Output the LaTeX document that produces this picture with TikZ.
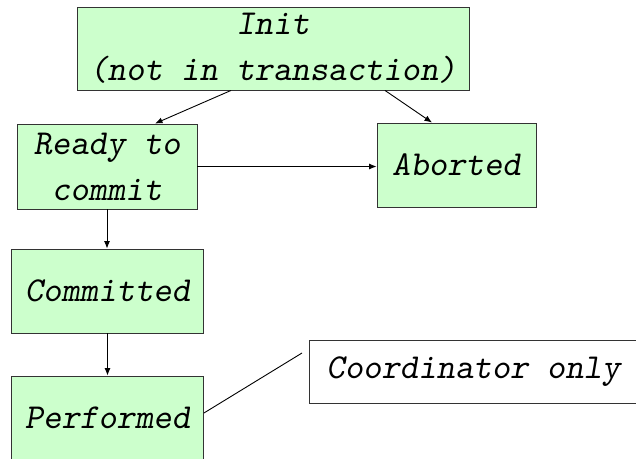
\documentclass[tikz,border=0pt]{standalone}
\usepackage{fontspec}
\newfontfamily\stateface{lmmonoslant10-regular.otf}
\usepackage{tikz}
\usetikzlibrary{arrows.meta}
\usetikzlibrary{positioning}

\definecolor{stategreen}{RGB}{204,255,204}
\definecolor{boxline}{RGB}{51,51,51}

\begin{document}
\begin{tikzpicture}[x=1pt, y=-1pt]
            \tikzset{every node/.style={rectangle, inner sep=0pt, align=center,
                        font=\fontsize{35}{46}\selectfont\stateface},
                    state/.style={draw=boxline, fill=stategreen, line width=0.9pt},
                    >={Latex[length=7.5pt, width=6pt]},
                    every edge/.style={draw=black, line width=0.9pt}}
            \useasboundingbox (0,0) rectangle (636,458);
            \node[state, minimum width=392pt, minimum height=83pt] (init) at (273,48.5) {Init\\(not in transaction)};
            \node[state, minimum width=180pt, minimum height=85pt] (ready) at (107,166.5) {Ready to\\commit};
            \node[state, minimum width=159pt, minimum height=84pt] (aborted) at (456.5,165) {Aborted};
            \node[state, minimum width=192pt, minimum height=84pt] (committed) at (107.5,291) {Committed};
            \node[state, minimum width=192pt, minimum height=84pt] (performed) at (107.5,418) {Performed};
            \node[draw=boxline, fill=white, line width=0.9pt, anchor=west, inner xsep=17pt,
                  minimum height=63pt] (coord) at (309,371.5) {Coordinator only};
            \coordinate (tip) at (302,353);
            \path [->] ([xshift=-42pt]init.south) edge node {} ([xshift=48pt]ready.north);
            \path [->] ([xshift=112pt]init.south) edge node {} ([xshift=-24.5pt]aborted.north);
            \path [->] (ready.east) edge node {} (ready.east -| aborted.west);
            \path [->] (ready.south) edge node {} (ready.south |- committed.north);
            \path [->] (committed.south) edge node {} (performed.north);
            \draw[line width=0.9pt] ([yshift=5pt]performed.east) -- (tip);
        \end{tikzpicture}
\end{document}
